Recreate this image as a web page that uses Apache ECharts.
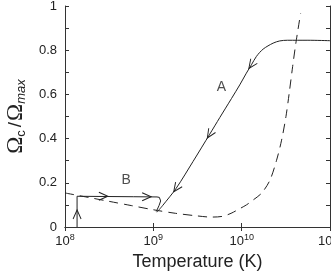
<!DOCTYPE html>
<html><head><meta charset="utf-8">
<script src="https://cdn.jsdelivr.net/npm/echarts@6/dist/echarts.min.js"></script>
<style>html,body{margin:0;padding:0;background:#fff}#c{width:331px;height:273px}</style>
</head><body><div id="c"></div>
<script>
// Dashed curve (temperature in K, Omega_c/Omega_max)
const dashT = [1e8, 1.778e8, 3.162e8, 5.623e8, 1e9, 1.778e9, 3.162e9, 4.467e9, 6.026e9, 7.586e9, 9.506e9, 1.132e10, 1.346e10, 1.679e10, 2.084e10, 2.483e10, 2.831e10, 3.170e10, 3.451e10, 3.776e10, 4.111e10, 4.645e10];
const dashY = [0.154, 0.135, 0.116, 0.097, 0.078, 0.062, 0.050, 0.045, 0.048, 0.062, 0.083, 0.100, 0.122, 0.153, 0.211, 0.302, 0.393, 0.499, 0.605, 0.726, 0.833, 0.966];
// Curve A (cooling from high T)
const aT = [1e11, 5.62e10, 3.3e10, 2.7e10, 2.27e10, 1.75e10, 1.47e10, 1.29e10, 1.13e10, 9.51e9, 7.66e9, 5.65e9, 4.35e9, 2.81e9, 1.82e9, 1.28e9, 1.10e9];
const aY = [0.843, 0.845, 0.845, 0.842, 0.832, 0.805, 0.772, 0.734, 0.696, 0.643, 0.581, 0.495, 0.420, 0.296, 0.176, 0.098, 0.067];
// Curve B (heating from low T)
const bT = [1.37e8, 1.37e8, 6e8, 1.10e9, 1.17e9, 1.21e9, 1.21e9, 1.16e9, 1.08e9];
const bY = [0, 0.139, 0.137, 0.136, 0.134, 0.128, 0.118, 0.097, 0.070];
// Arrow heads on curves
const arrowT = [1.29e10, 4.35e9, 1.82e9, 2.72e8, 8.4e8, 1.37e8];
const arrowY = [0.734, 0.420, 0.176, 0.139, 0.137, 0.057];
const arrowRot = [235, 238, 235, 0, 0, 90];
// Curve labels
const labelT = [5.9e9, 4.92e8];
const labelY = [0.633, 0.211];
const labelText = ['A', 'B'];
// Axis settings
const xMin = 1e8, xMax = 1e11;
const yMin = 0, yMax = 1, yStep = 0.1;

const zip = (xs, ys) => xs.map((x, i) => [x, ys[i]]);
const ink = '#222';
const font = 'Liberation Sans, Arial, Helvetica, sans-serif';

const chart = echarts.init(document.getElementById('c'), null, {renderer: 'canvas'});
const xBase = {
  type: 'log', logBase: 10, min: xMin, max: xMax,
  axisLine: {show: true, lineStyle: {color: '#333', width: 1}},
  axisTick: {show: true, inside: true, length: 4, lineStyle: {color: '#333'}},
  minorTick: {show: false}, splitLine: {show: false}
};
const yBase = {
  type: 'value', min: yMin, max: yMax, interval: yStep,
  axisLine: {show: true, lineStyle: {color: '#333', width: 1}},
  axisTick: {show: true, inside: true, length: 4, lineStyle: {color: '#333'}},
  splitLine: {show: false}
};
chart.setOption({
  animation: false,
  backgroundColor: '#fff',
  grid: {left: 65, right: 1, top: 6, bottom: 46, containLabel: false, outerBoundsMode: 'none'},
  xAxis: [
    Object.assign({}, xBase, {
      position: 'bottom',
      name: 'Temperature (K)', nameLocation: 'middle', nameGap: 26,
      nameTextStyle: {fontFamily: font, fontSize: 18, color: ink},
      axisLabel: {
        show: true, margin: 6, color: ink, fontFamily: font, fontSize: 13, showMaxLabel: true, showMinLabel: true,
        hideOverlap: false,
        formatter: v => '10{sup|' + Math.round(Math.log10(v)) + '}',
        rich: {sup: {fontSize: 9, fontFamily: font, color: ink, padding: [0, 0, 8, 0]}}
      }
    }),
    Object.assign({}, xBase, {position: 'top', axisLabel: {show: false}})
  ],
  yAxis: [
    Object.assign({}, yBase, {
      position: 'left',
      name: '{o|Ω}{sub|c}{sl|/}{o|Ω}{subi|max}',
      nameLocation: 'middle', nameRotate: 90, nameGap: 31,
      nameTextStyle: {
        color: ink,
        rich: {
          o: {fontFamily: 'Liberation Serif, DejaVu Serif, serif', fontSize: 23, color: ink},
          sub: {fontFamily: font, fontSize: 13, color: ink, padding: [11, 0, 0, 0]},
          subi: {fontFamily: font, fontSize: 13, fontStyle: 'italic', color: ink, padding: [11, 0, 0, 0]},
          sl: {fontFamily: font, fontSize: 19, color: ink, padding: [0, 1, 0, 3]}
        }
      },
      axisLabel: {
        show: true, margin: 8, color: ink, fontFamily: font, fontSize: 13,
        formatter: v => (Math.round(v * 10) % 2 === 0) ? String(Math.round(v * 10) / 10) : ''
      }
    }),
    Object.assign({}, yBase, {position: 'right', axisLabel: {show: false}})
  ],
  series: [
    {
      type: 'line', name: 'dashed', data: zip(dashT, dashY), smooth: 0.3, symbol: 'none', silent: true,
      lineStyle: {color: ink, width: 1, type: [9, 6]}
    },
    {
      type: 'line', name: 'A', data: zip(aT, aY), smooth: 0.3, symbol: 'none', silent: true,
      lineStyle: {color: ink, width: 1}
    },
    {
      type: 'line', name: 'B', data: zip(bT, bY), smooth: false, symbol: 'none', silent: true,
      lineStyle: {color: ink, width: 1}
    },
    {
      type: 'scatter', name: 'arrows', silent: true,
      data: arrowT.map((t, i) => ({value: [t, arrowY[i]], symbolRotate: arrowRot[i]})),
      symbol: 'path://M0,0L10,4L0,8', symbolSize: [9, 8],
      itemStyle: {color: 'none', borderColor: ink, borderWidth: 1, opacity: 1}
    },
    {
      type: 'scatter', name: 'labels', silent: true,
      data: labelT.map((t, i) => ({value: [t, labelY[i]], name: labelText[i]})),
      symbolSize: 0,
      label: {show: true, position: 'inside', formatter: p => p.name, color: ink, fontFamily: font, fontSize: 14}
    }
  ]
});
</script></body></html>
